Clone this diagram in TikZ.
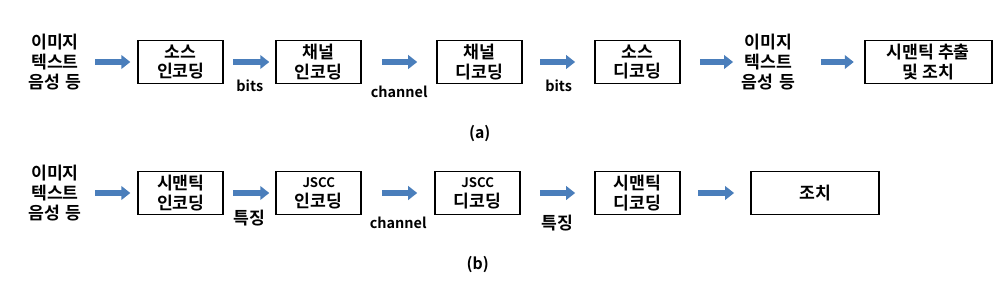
\documentclass[tikz,border=0pt]{standalone}
\usepackage{fontspec}
\setmainfont{Noto Sans CJK KR}[BoldFont={Noto Sans CJK KR Bold}]
\usepackage{tikz}
\usetikzlibrary{arrows.meta,positioning}
\definecolor{arrBlue}{HTML}{4A7EBB}

\begin{document}
\begin{tikzpicture}[font=\bfseries\fontsize{9.8}{11.2}\selectfont,
  box/.style={draw, line width=1.1pt, align=center, minimum width=1.7cm, minimum height=0.86cm, inner sep=1pt},
  txt/.style={align=center, text width=1.2cm, inner sep=0pt},
  lbl/.style={inner sep=0pt, text=black, font=\bfseries\fontsize{8.2}{10}\selectfont},
  barr/.style={arrBlue, line width=0.11cm, -{Triangle[length=0.18cm, width=0.27cm]}}]
\useasboundingbox (0,0) rectangle (20.14,-5.74);
% (a)
\node[txt] (inA) at (1.1,-1.24) {이미지\\텍스트\\음성 등};
\node[box, right=1.04cm of inA] (sencA) {소스\\인코딩};
\node[box, right=1.02cm of sencA] (cencA) {채널\\인코딩};
\node[box, right=1.48cm of cencA] (cdecA) {채널\\디코딩};
\node[box, right=1.42cm of cdecA] (sdecA) {소스\\디코딩};
\node[txt, right=1.14cm of sdecA] (outA) {이미지\\텍스트\\음성 등};
\node[box, right=1.3cm of outA, minimum width=2.54cm] (actA) {시맨틱 추출\\및 조치};
\node[lbl, below=0.82cm of cdecA, font=\bfseries\fontsize{9}{10}\selectfont] (capA) {(a)};
\foreach \a/\b/\p/\q in {inA/sencA/0.2/0.14, sdecA/outA/0.38/0.1, outA/actA/0.44/0.2}
  \draw[barr, shorten <=\p cm, shorten >=\q cm] (\a) -- (\b);
\draw[barr, shorten <=0.18cm, shorten >=0.12cm] (sencA) -- (cencA) node[lbl, midway, below=0.31cm]{bits};
\draw[barr, shorten <=0.4cm, shorten >=0.38cm] (cencA) -- (cdecA) node[lbl, midway, below=0.43cm]{channel};
\draw[barr, shorten <=0.34cm, shorten >=0.38cm] (cdecA) -- (sdecA) node[lbl, midway, below=0.31cm]{bits};
% (b)
\node[txt] (inB) at (1.1,-3.86) {이미지\\텍스트\\음성 등};
\node[box, right=1.04cm of inB] (menB) {시맨틱\\인코딩};
\node[box, right=1.02cm of menB] (jencB) {{\fontsize{7.5}{9}\selectfont JSCC}\\인코딩};
\node[box, right=1.44cm of jencB] (jdecB) {{\fontsize{7.5}{9}\selectfont JSCC}\\디코딩};
\node[box, right=1.46cm of jdecB] (mdecB) {시맨틱\\디코딩};
\node[box, right=1.38cm of mdecB, minimum width=2.56cm] (actB) {조치};
\node[lbl, below=0.82cm of jdecB, font=\bfseries\fontsize{9}{10}\selectfont] (capB) {(b)};
\foreach \a/\b/\p/\q in {inB/menB/0.2/0.14, mdecB/actB/0.34/0.32}
  \draw[barr, shorten <=\p cm, shorten >=\q cm] (\a) -- (\b);
\draw[barr, shorten <=0.18cm, shorten >=0.12cm] (menB) -- (jencB) node[lbl, midway, below=0.28cm, font=\bfseries\fontsize{9.8}{11}\selectfont]{특징};
\draw[barr, shorten <=0.4cm, shorten >=0.34cm] (jencB) -- (jdecB) node[lbl, midway, below=0.43cm]{channel};
\draw[barr, shorten <=0.38cm, shorten >=0.38cm] (jdecB) -- (mdecB) node[lbl, midway, below=0.38cm, font=\bfseries\fontsize{9.8}{11}\selectfont]{특징};
\end{tikzpicture}
\end{document}
